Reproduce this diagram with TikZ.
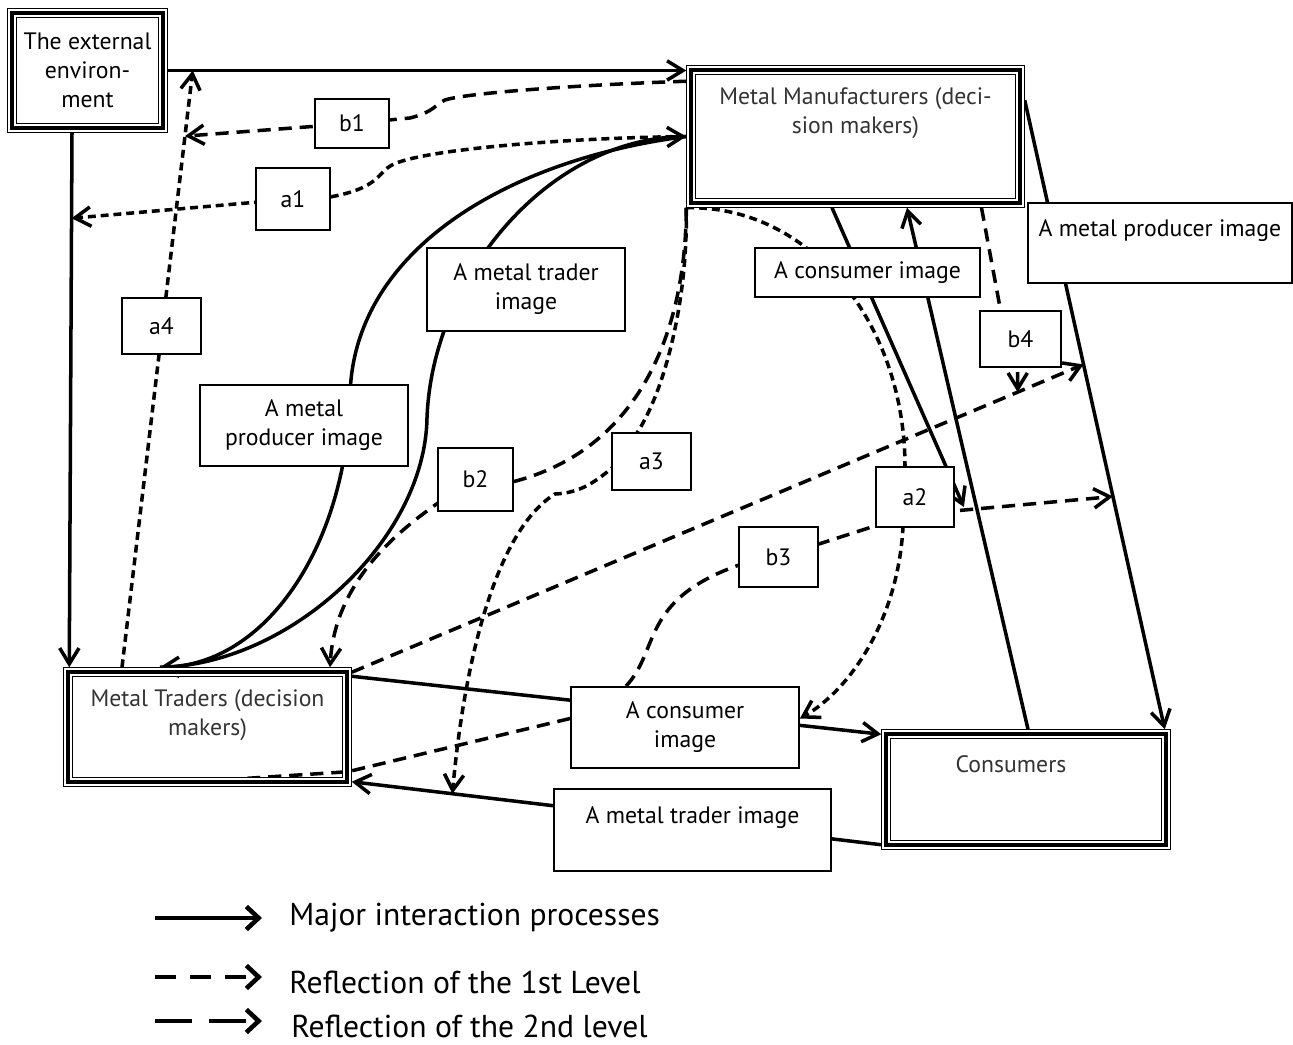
\documentclass[tikz,border=0pt]{standalone}
\usepackage{fontspec}
\setmainfont{PT Sans}
\usetikzlibrary{arrows.meta, positioning, calc, backgrounds}
\newcommand{\boxfont}{\fontsize{13.5}{16.5}\selectfont}
\newcommand{\legfont}{\fontsize{18}{22}\selectfont}

\begin{document}
\begin{tikzpicture}[
    every node/.style={font=\boxfont},
    tribox/.style={rectangle, inner sep=0pt, outer sep=2.7pt, align=center,
        preaction={draw, line width=5.4pt},
        preaction={draw=white, line width=4pt},
        draw, line width=1.9pt},
    bigtxt/.style={inner sep=0pt, align=center, text=black!80},
    lbl/.style={draw, fill=white, line width=1pt, inner sep=0pt, align=center},
    headed/.style={-{Straight Barb[length=9pt, width=11pt]}},
    major/.style={line width=2pt, headed},
    refone/.style={line width=2pt, dash pattern=on 4.5pt off 2.8pt},
    reftwo/.style={line width=2pt, dash pattern=on 7.5pt off 4.5pt},
    legline/.style={line width=2.6pt, -{Straight Barb[length=7pt, width=13pt]}},
    legtxt/.style={font=\legfont, inner sep=0pt, anchor=west},
]
    \useasboundingbox (0,0) rectangle (25.86,-20.9);

    % the four actors
    \node[tribox, minimum width=3.02cm, minimum height=2.3cm] (ext) at (1.75,-1.41)
        {The external\\environ-\\ment};
    \node[tribox, minimum width=6.58cm, minimum height=2.66cm] (mm) at (17.11,-2.73) {};
    \node[bigtxt] (mmtxt) at ([yshift=-0.96cm]mm.north) {Metal Manufacturers (deci-\\sion makers)};
    \node[tribox, minimum width=5.58cm, minimum height=2.2cm] (mt) at (4.15,-14.54) {};
    \node[bigtxt] (mttxt) at ([yshift=-0.96cm]mt.north) {Metal Traders (decision\\makers)};
    \node[tribox, minimum width=5.6cm, minimum height=2.22cm] (cons) at (20.52,-15.79) {};
    \node[bigtxt] (constxt) at ([shift={(-0.3cm,-0.7cm)}]cons.north) {Consumers};

    % images and reflection labels
    \node[lbl, minimum width=1.48cm, minimum height=0.98cm] (b1) at (7.04,-2.47) {b1};
    \node[lbl, minimum width=1.48cm, minimum height=1.24cm] (a1) at (5.86,-3.98) {a1};
    \node[lbl, minimum width=1.58cm, minimum height=1.12cm] (a4) at (3.23,-6.52) {a4};
    \node[lbl, minimum width=4.16cm, minimum height=1.62cm] (pimg1) at (6.08,-8.51) {A metal\\producer image};
    \node[lbl, minimum width=3.96cm, minimum height=1.66cm] (timg1) at (10.52,-5.79) {A metal trader\\image};
    \node[lbl, minimum width=1.5cm, minimum height=1.26cm] (b2) at (9.51,-9.59) {b2};
    \node[lbl, minimum width=1.58cm, minimum height=1.14cm] (a3) at (13.03,-9.23) {a3};
    \node[lbl, minimum width=1.58cm, minimum height=1.2cm] (b3) at (15.57,-11.14) {b3};
    \node[lbl, minimum width=1.56cm, minimum height=1.2cm] (a2) at (18.3,-9.94) {a2};
    \node[lbl, minimum width=4.5cm, minimum height=0.98cm] (cimg1) at (17.35,-5.45) {A consumer image};
    \node[lbl, minimum width=5.28cm, minimum height=1.6cm] (pimg2) at (23.2,-4.86) {A metal producer image\\\phantom{A}};
    \node[lbl, minimum width=1.62cm, minimum height=1.12cm] (b4) at (20.41,-6.78) {b4};
    \node[lbl, minimum width=4.56cm, minimum height=1.62cm] (cimg2) at (13.7,-14.55) {A consumer\\image};
    \node[lbl, minimum width=5.54cm, minimum height=1.64cm] (timg2) at (13.85,-16.6) {A metal trader image\\\phantom{A}};

    \begin{scope}[on background layer]
        % major interaction processes
        \coordinate (e1) at ([xshift=-0.31cm]ext.south);
        \coordinate (e2) at ([xshift=0.12cm]mt.north west);
        \coordinate (mtin) at ([xshift=-0.95cm]mt.north);
        \coordinate (s6a) at ([yshift=0.1cm]cons.south west);
        \coordinate (s6b) at ([yshift=0.1cm]mt.south east);
        \coordinate (s7a) at ([yshift=-0.7cm]mm.north east);
        \coordinate (s7b) at ([xshift=-0.12cm]cons.north east);
        \coordinate (a2tip) at ([shift={(0.18cm,-0.2cm)}]a2.east);

        \draw[major] (ext.east) -- (ext.east -| mm.west);
        \draw[major] (e1) -- (e2);
        \draw[major] (mm.west) .. controls (10.08,-3.2) and (7.0,-5.06) .. (7.0,-8.0)
            .. controls (6.9,-10.96) and (5.3,-13.3) .. (mtin);
        \draw[major] (mtin) .. controls (5.8,-13.3) and (8.5,-10.8) .. (8.54,-8.36)
            .. controls (8.64,-5.6) and (10.9,-2.8) .. (mm.west);
        \draw[major] ([yshift=-0.18cm]mt.north east) -- ([yshift=-0.1cm]cons.north west);
        \draw[major] (s6a) -- (s6b);
        \draw[major] (s7a) -- (s7b);
        \draw[major] ([xshift=0.04cm]cons.north) -- ([xshift=1.03cm]mm.south);
        \draw[major] ([xshift=-0.47cm]mm.south) -- (a2tip);

        % reflections
        \coordinate (envtip) at ($(e1)!0.16!(e2)$);
        \coordinate (a4bot) at ([xshift=-1.71cm]mt.north);
        \coordinate (a4top) at ([xshift=0.5cm]ext.east);
        \coordinate (b1tip) at ($(a4top)!0.11!(a4bot)$);
        \coordinate (b2tip) at ([xshift=2.45cm]mt.north);
        \coordinate (a3tip) at ($(s6a)!0.81!(s6b)$);
        \coordinate (c2tip) at ([yshift=0.18cm]cimg2.east);
        \coordinate (b3tip) at ($(s7a)!0.63!(s7b)$);
        \coordinate (lsa) at ([yshift=-0.1cm]mt.north east);
        \coordinate (lsb) at ($(s7a)!0.42!(s7b)$);
        \coordinate (b4tip) at ($(lsa)!0.91!(lsb)$);

        \draw[refone, headed] (mm.west) .. controls (11.2,-2.76) and (8.4,-3.0) .. (7.84,-3.3)
            .. controls (7.56,-3.44) and (7.6,-3.76) .. (6.6,-3.94) -- (a1.center) -- (envtip);
        \draw[refone, headed] (a4bot) -- (a4top);
        \draw[reftwo, headed] ([yshift=-0.32cm]mm.north west) .. controls (12.0,-1.68) and (9.4,-1.84) .. (8.9,-2.0)
            .. controls (8.72,-2.08) and (8.68,-2.24) .. (8.2,-2.36) -- (b1.center) -- (b1tip);
        \draw[reftwo, headed] (mm.south west) .. controls (13.72,-6.6) and (12.8,-9.0) .. (10.24,-9.64)
            -- (8.76,-10.06) .. controls (8.0,-10.6) and (6.7,-11.6) .. (b2tip);
        \draw[refone, headed] (mm.south west) .. controls (13.76,-6.0) and (13.3,-7.8) .. (12.74,-8.66)
            -- (12.24,-9.36) .. controls (11.9,-9.64) and (11.6,-9.86) .. (11.1,-9.88)
            .. controls (9.9,-10.62) and (9.28,-13.3) .. (a3tip);
        \draw[refone, headed] (mm.south west) .. controls (16.2,-4.1) and (18.1,-6.46) .. (18.1,-9.34)
            -- (18.06,-10.54) .. controls (17.96,-12.4) and (17.0,-13.8) .. (c2tip);
        \draw[reftwo] ([yshift=0.18cm]cimg2.west) -- ([shift={(-0.08cm,0.3cm)}]mt.south east)
            -- ([shift={(-0.25cm,0.1cm)}]mt.south);
        \draw[reftwo, headed] ([xshift=-1.18cm]cimg2.north) .. controls (13.2,-13.0) and (12.8,-12.0) .. (14.78,-11.3)
            -- (b3.center) -- ([yshift=0.04cm]a2.south west) -- ([yshift=0.34cm]a2.south east) -- (b3tip);
        \draw[reftwo, headed] (lsa) -- (lsb);
        \draw[reftwo, headed] ([xshift=2.52cm]mm.south) -- ([xshift=-0.4cm]b4.north)
            -- (b4.south -| b4tip) -- (b4tip);
    \end{scope}

    % legend
    \node[legtxt] (leg1) at (5.78,-18.36) {Major interaction processes};
    \node[legtxt] (leg2) at (5.78,-19.64) {Reflection of the 1st Level};
    \node[legtxt] (leg3) at (5.82,-20.52) {Reflection of the 2nd level};
    \draw[legline] ([xshift=-2.68cm]leg1.west) -- ([xshift=-0.54cm]leg1.west);
    \draw[legline, dash pattern=on 12pt off 8pt] ([shift={(-2.68cm,0.1cm)}]leg2.west) -- ([shift={(-0.54cm,0.1cm)}]leg2.west);
    \draw[legline, dash pattern=on 21pt off 10pt] ([shift={(-2.72cm,0.1cm)}]leg3.west) -- ([shift={(-0.58cm,0.1cm)}]leg3.west);
\end{tikzpicture}
\end{document}
